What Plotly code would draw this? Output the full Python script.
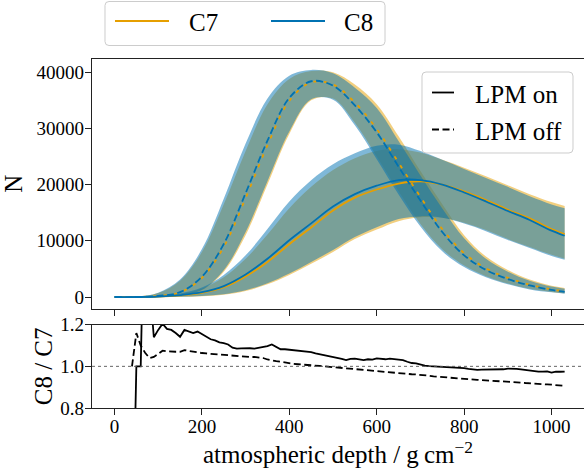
import plotly.graph_objects as go

# ---------------- data ----------------
depth = [0, 50, 100, 150, 200, 250, 300, 350, 400, 450, 500, 550, 600, 650,
         700, 750, 800, 850, 900, 950, 1000, 1030]

c7_on_mean = [0, 0, 70, 305, 745, 1740, 3670, 6240, 9400, 12360, 15400, 17680, 19130, 20190,
              20590, 20000, 18790, 17260, 15530, 13980, 12100, 11180]
c7_on_up = [0, 0, 140, 560, 1500, 3500, 6800, 11100, 15800, 19600, 22600, 24700, 26000, 26300,
            25700, 24400, 23000, 21500, 19900, 18300, 16900, 16200]
c7_on_lo = [0, 0, 0, 30, 140, 420, 1080, 2250, 3900, 5900, 8000, 10300, 12000, 13500,
            14200, 14100, 13200, 11900, 10300, 8900, 7500, 6800]
c8_on_mean = [0, 0, 80, 350, 850, 1950, 4000, 6800, 10100, 13100, 16100, 18300, 19800, 20800,
              20800, 20000, 18600, 17000, 15300, 13700, 11800, 10900]
c8_on_up = [0, 0, 160, 640, 1710, 3920, 7410, 12100, 17000, 20780, 23620, 25560, 26910, 27090,
            25960, 24400, 22770, 21180, 19600, 17930, 16480, 15800]
c8_on_lo = [0, 0, 0, 35, 160, 470, 1180, 2450, 4190, 6250, 8360, 10660, 12420, 13900,
            14340, 14100, 13070, 11720, 10150, 8720, 7310, 6630]

c7_off_mean = [0, 0, 190, 800, 3400, 8900, 17600, 27000, 34900, 38200, 37800, 34600, 29900, 23900,
               17800, 12100, 7800, 5100, 3400, 2200, 1350, 1000]
c7_off_up = [0, 50, 700, 2900, 8000, 16500, 26000, 34300, 38800, 40200, 40000, 37800, 34300, 28600,
             22400, 16500, 11000, 7200, 4800, 3100, 2000, 1600]
c7_off_lo = [0, 0, 20, 250, 1200, 4500, 11000, 20000, 29000, 35000, 35300, 31000, 25000, 18800,
             13000, 8500, 5600, 3700, 2400, 1450, 900, 650]
c8_off_mean = [0, 0, 200, 855, 3620, 9430, 18480, 27810, 35420, 38390, 37610, 34080, 29300, 23180,
               17180, 11560, 7410, 4820, 3200, 2050, 1250, 920]
c8_off_up = [0, 55, 750, 3100, 8520, 17490, 27300, 35330, 39380, 40400, 39800, 37230, 33610, 27740,
             21620, 15760, 10450, 6800, 4510, 2880, 1850, 1470]
c8_off_lo = [0, 0, 21, 268, 1280, 4770, 11550, 20600, 29440, 35170, 35120, 30540, 24500, 18240,
             12550, 8120, 5320, 3500, 2260, 1350, 830, 600]

ratio_depth = [40, 50, 60, 70, 80, 90, 100, 110, 120, 130,
               140, 150, 160, 170, 180, 190, 200, 210, 220, 230,
               240, 250, 260, 270, 280, 290, 300, 310, 320, 330,
               340, 350, 360, 370, 380, 390, 400, 410, 420, 430,
               440, 450, 460, 470, 480, 490, 500, 510, 520, 530,
               540, 550, 560, 570, 580, 590, 600, 610, 620, 630,
               640, 650, 660, 670, 680, 690, 700, 710, 720, 730,
               740, 750, 760, 770, 780, 790, 800, 810, 820, 830,
               840, 850, 860, 870, 880, 890, 900, 910, 920, 930,
               940, 950, 960, 970, 980, 990, 1000, 1010, 1020, 1030]
ratio_on = [0.0, 1.0, 1.0, 2.0, 1.4, 1.14, 1.175, 1.205, 1.18, 1.175,
            1.16, 1.142, 1.175, 1.168, 1.16, 1.167, 1.155, 1.14, 1.13, 1.125,
            1.115, 1.112, 1.105, 1.09, 1.085, 1.086, 1.088, 1.087, 1.085, 1.089,
            1.092, 1.097, 1.105, 1.092, 1.082, 1.082, 1.08, 1.077, 1.074, 1.074,
            1.073, 1.068, 1.062, 1.058, 1.054, 1.048, 1.044, 1.04, 1.036, 1.03,
            1.036, 1.037, 1.032, 1.03, 1.034, 1.032, 1.038, 1.036, 1.034, 1.037,
            1.035, 1.034, 1.03, 1.022, 1.016, 1.014, 1.008, 1.003, 1.001, 1.0,
            0.999, 0.998, 0.996, 0.995, 0.993, 0.993, 0.991, 0.988, 0.985, 0.983,
            0.984, 0.984, 0.985, 0.985, 0.987, 0.986, 0.989, 0.99, 0.988, 0.985,
            0.982, 0.978, 0.975, 0.975, 0.975, 0.976, 0.97, 0.975, 0.974, 0.975]
ratio_off = [1.0, 1.16, 1.10, 1.065, 1.04, 1.045, 1.06, 1.075, 1.072, 1.07,
             1.07, 1.07, 1.078, 1.074, 1.07, 1.067, 1.064, 1.062, 1.06, 1.058,
             1.056, 1.055, 1.054, 1.05, 1.048, 1.047, 1.046, 1.045, 1.045, 1.043,
             1.04, 1.033, 1.028, 1.025, 1.022, 1.018, 1.015, 1.012, 1.01, 1.009,
             1.008, 1.006, 1.005, 1.002, 1.0, 0.998, 0.996, 0.994, 0.992, 0.99,
             0.988, 0.986, 0.984, 0.982, 0.98, 0.977, 0.975, 0.974, 0.972, 0.97,
             0.967, 0.966, 0.965, 0.964, 0.962, 0.961, 0.96, 0.958, 0.955, 0.952,
             0.95, 0.948, 0.946, 0.944, 0.942, 0.94, 0.938, 0.937, 0.936, 0.935,
             0.934, 0.933, 0.932, 0.931, 0.93, 0.929, 0.927, 0.926, 0.924, 0.922,
             0.92, 0.918, 0.916, 0.915, 0.914, 0.913, 0.912, 0.91, 0.908, 0.906]

y_ticks_top = [0, 10000, 20000, 30000, 40000]
y_ticks_bot = [0.8, 1.0, 1.2]
x_ticks = [0, 200, 400, 600, 800, 1000]

# ---------------- styling ----------------
ORANGE = "#E69F00"
BLUE = "#0072B2"
ORANGE_FILL = "rgba(230,159,0,0.5)"
BLUE_FILL = "rgba(0,114,178,0.5)"
FONT = "Liberation Serif"
DASH = "7px,3.5px"

W, H = 584, 471
L, R, T, B = 92, 584, 59, 408  # plot area in pixels


def xp(px):
    return (px - L) / (R - L)


def yp(py):
    return (B - py) / (B - T)


fig = go.Figure()


def band(lo, up, fill):
    fig.add_trace(go.Scatter(x=depth, y=lo, mode="lines", line=dict(width=0, shape="spline"),
                             showlegend=False, hoverinfo="skip", xaxis="x", yaxis="y"))
    fig.add_trace(go.Scatter(x=depth, y=up, mode="lines", line=dict(width=0, shape="spline"),
                             fill="tonexty", fillcolor=fill, showlegend=False,
                             hoverinfo="skip", xaxis="x", yaxis="y"))


band(c7_on_lo, c7_on_up, ORANGE_FILL)
band(c7_off_lo, c7_off_up, ORANGE_FILL)
band(c8_on_lo, c8_on_up, BLUE_FILL)
band(c8_off_lo, c8_off_up, BLUE_FILL)

fig.add_trace(go.Scatter(x=depth, y=c7_on_mean, mode="lines", name="C7 LPM on",
                         line=dict(color=ORANGE, width=1.8, shape="spline"), showlegend=False,
                         xaxis="x", yaxis="y"))
fig.add_trace(go.Scatter(x=depth, y=c7_off_mean, mode="lines", name="C7 LPM off",
                         line=dict(color=ORANGE, width=1.8, shape="spline", dash="0px,7px,3.5px,0px"),
                         showlegend=False, xaxis="x", yaxis="y"))
fig.add_trace(go.Scatter(x=depth, y=c8_on_mean, mode="lines", name="C8 LPM on",
                         line=dict(color=BLUE, width=1.8, shape="spline"), showlegend=False,
                         xaxis="x", yaxis="y"))
fig.add_trace(go.Scatter(x=depth, y=c8_off_mean, mode="lines", name="C8 LPM off",
                         line=dict(color=BLUE, width=1.8, shape="spline", dash=DASH),
                         showlegend=False, xaxis="x", yaxis="y"))

# ratio panel
fig.add_trace(go.Scatter(x=ratio_depth, y=ratio_on, mode="lines", name="C8/C7 LPM on",
                         line=dict(color="black", width=1.8), showlegend=False,
                         xaxis="x2", yaxis="y2"))
fig.add_trace(go.Scatter(x=ratio_depth, y=ratio_off, mode="lines", name="C8/C7 LPM off",
                         line=dict(color="black", width=1.8, dash=DASH), showlegend=False,
                         xaxis="x2", yaxis="y2"))

xr = [-51.5, (R - 114) / 0.4375]
axis_common = dict(showline=True, linecolor="#222", linewidth=1.2, ticks="outside",
                   ticklen=6, tickwidth=1.2, tickcolor="#222", showgrid=False, zeroline=False,
                   tickfont=dict(family=FONT, size=19, color="black"))

fig.update_layout(
    width=W, height=H,
    margin=dict(l=L, r=W - R, t=T, b=H - B),
    paper_bgcolor="white", plot_bgcolor="white",
    font=dict(family=FONT, color="black"),
    xaxis=dict(domain=[0, 1], anchor="y", range=xr, tickvals=x_ticks, showticklabels=False,
               mirror=True, **axis_common),
    yaxis=dict(domain=[yp(308.5), 1], anchor="x", range=[(297 - 308.5) / 0.00562, (297 - 59) / 0.00562],
               tickvals=y_ticks_top, ticktext=[str(v) for v in y_ticks_top], ticklabelstandoff=-3,
               title=dict(text="N", font=dict(family=FONT, size=25), standoff=12),
               **axis_common),
    xaxis2=dict(domain=[0, 1], anchor="y2", range=xr, tickvals=x_ticks, mirror=True,
                ticklabelstandoff=-5,
                title=dict(text="atmospheric depth / g\u2009cm<sup>\u22122</sup>",
                           font=dict(family=FONT, size=25), standoff=0),
                **axis_common),
    yaxis2=dict(domain=[0, yp(324.7)], anchor="x2", range=[0.8, 1.2], tickvals=y_ticks_bot,
                ticktext=["0.8", "1.0", "1.2"], ticklabelstandoff=-3,
                title=dict(text="C8 / C7", font=dict(family=FONT, size=25), standoff=0),
                **axis_common),
)

# dotted reference line at ratio 1
fig.add_shape(type="line", xref="x2 domain", yref="y2", x0=0, x1=1, y0=1, y1=1,
              line=dict(color="#555", width=0.9, dash="dot"))


def rounded_box(x0, y0, x1, y1, r=4):
    # pixel coordinates -> paper path with rounded corners
    def P(x, y):
        return f"{xp(x):.5f},{yp(y):.5f}"
    path = (f"M{P(x0 + r, y0)} L{P(x1 - r, y0)} Q{P(x1, y0)} {P(x1, y0 + r)} "
            f"L{P(x1, y1 - r)} Q{P(x1, y1)} {P(x1 - r, y1)} L{P(x0 + r, y1)} "
            f"Q{P(x0, y1)} {P(x0, y1 - r)} L{P(x0, y0 + r)} Q{P(x0, y0)} {P(x0 + r, y0)} Z")
    fig.add_shape(type="path", xref="paper", yref="paper", path=path,
                  fillcolor="rgba(255,255,255,0.8)", line=dict(color="#cccccc", width=1))


def legend_line(x0, x1, y, color, dash="solid"):
    fig.add_shape(type="line", xref="paper", yref="paper", x0=xp(x0), x1=xp(x1), y0=yp(y), y1=yp(y),
                  line=dict(color=color, width=1.8, dash=dash))


def legend_text(x, y, text):
    fig.add_annotation(xref="paper", yref="paper", x=xp(x), y=yp(y), text=text, showarrow=False,
                       xanchor="left", yanchor="middle", font=dict(family=FONT, size=25, color="black"))


# top legend (series colours)
rounded_box(105, 1.5, 385, 45.5)
legend_line(115, 169, 21, ORANGE)
legend_text(187, 23, "C7")
legend_line(271, 325, 21, BLUE)
legend_text(342, 23, "C8")

# LPM legend (line styles)
rounded_box(422, 72, 573, 153)
legend_line(432, 454, 92.5, "black")
legend_text(473, 94, "LPM on")
legend_line(432, 454, 129.5, "black", DASH)
legend_text(473, 131, "LPM off")

fig.write_html("out.html", config={"displayModeBar": False},
               post_script="document.body.style.margin='0';document.body.style.overflow='hidden';")
